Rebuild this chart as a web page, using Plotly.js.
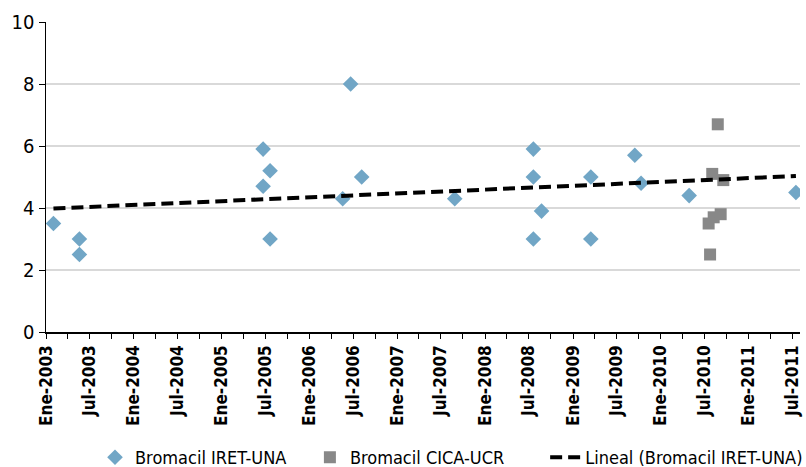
<!DOCTYPE html>
<html>
<head>
<meta charset="utf-8">
<script src="https://cdn.plot.ly/plotly-3.0.1.min.js"></script>
<style>
html,body{margin:0;padding:0;background:#fff;}
#chart{width:806px;height:467px;}
</style>
</head>
<body>
<div id="chart"></div>
<script>
// IRET-UNA series
var iretDates = ["2003-02-01","2003-05-20","2003-05-20","2005-06-22","2005-06-22","2005-07-21","2005-07-21",
  "2006-05-19","2006-06-21","2006-08-06","2007-08-28","2008-07-20","2008-07-20","2008-07-20","2008-08-23",
  "2009-03-16","2009-03-16","2009-09-15","2009-10-11","2010-04-29","2011-07-17"];
var iretValues = [3.5,3.0,2.5,5.9,4.7,5.2,3.0,4.3,8.0,5.0,4.3,5.9,5.0,3.0,3.9,5.0,3.0,5.7,4.8,4.4,4.5];

// CICA-UCR series
var cicaDates = ["2010-08-26","2010-08-03","2010-09-18","2010-09-07","2010-08-09","2010-07-19","2010-07-25"];
var cicaValues = [6.7,5.1,4.9,3.8,3.7,3.5,2.5];

// Axis ticks
var tickDates = ["2003-01-01","2003-07-01","2004-01-01","2004-07-01","2005-01-01","2005-07-01","2006-01-01","2006-07-01",
  "2007-01-01","2007-07-01","2008-01-01","2008-07-01","2009-01-01","2009-07-01","2010-01-01","2010-07-01","2011-01-01","2011-07-01"];
var tickLabels = ["Ene-2003","Jul-2003","Ene-2004","Jul-2004","Ene-2005","Jul-2005","Ene-2006","Jul-2006",
  "Ene-2007","Jul-2007","Ene-2008","Jul-2008","Ene-2009","Jul-2009","Ene-2010","Jul-2010","Ene-2011","Jul-2011"];

var seriesNames = ["Bromacil IRET-UNA","Bromacil CICA-UCR","Lineal (Bromacil IRET-UNA)"];

// Linear trendline (least squares) on IRET-UNA
var xs = iretDates.map(function(d){return new Date(d+"T00:00:00Z").getTime();});
var n = xs.length, sx=0, sy=0, sxx=0, sxy=0;
for (var i=0;i<n;i++){sx+=xs[i];sy+=iretValues[i];}
var mx=sx/n, my=sy/n;
for (var i=0;i<n;i++){sxx+=(xs[i]-mx)*(xs[i]-mx);sxy+=(xs[i]-mx)*(iretValues[i]-my);}
var slope=sxy/sxx, icpt=my-slope*mx;
var tMin=Math.min.apply(null,xs), tMax=Math.max.apply(null,xs);
var trendX=[new Date(tMin).toISOString().slice(0,10), new Date(tMax).toISOString().slice(0,10)];
var trendY=[icpt+slope*tMin, icpt+slope*tMax];

var FONT = "DejaVu Sans Condensed, Liberation Sans Narrow, sans-serif";

var traces = [
  {x: iretDates, y: iretValues, type:"scatter", mode:"markers", name: seriesNames[0], legend:"legend",
   marker:{symbol:"diamond", size:12, color:"#71A6C6", line:{width:0}}},
  {x: cicaDates, y: cicaValues, type:"scatter", mode:"markers", name: seriesNames[1], legend:"legend2",
   marker:{symbol:"square", size:12, color:"#888888", line:{width:0}}},
  {x: trendX, y: trendY, type:"scatter", mode:"lines", name: seriesNames[2], legend:"legend3",
   line:{color:"#000000", width:4, dash:"12px,6px"}}
];

function leg(x){
  return {orientation:"h", x:x, xanchor:"left", y:-0.405, yanchor:"middle",
          font:{family:FONT, size:18, color:"#000"}, itemwidth:30, bgcolor:"rgba(0,0,0,0)"};
}

var layout = {
  width:806, height:467,
  margin:{l:46, r:6, t:22, b:135, autoexpand:false},
  paper_bgcolor:"#ffffff", plot_bgcolor:"#ffffff",
  font:{family:FONT, size:18, color:"#000"},
  showlegend:true,
  legend: leg(0.065),
  legend2: leg(0.350),
  legend3: leg(0.662),
  xaxis:{type:"date", range:["2003-01-01","2011-08-03"], automargin:false,
         tickmode:"array", tickvals:tickDates, ticktext:tickLabels, tickangle:-90,
         tickfont:{family:FONT, size:17, color:"#000", weight:"bold"},
         ticks:"outside", ticklen:5, tickwidth:1, tickcolor:"#000",
         minor:{dtick:"M3", tick0:"2003-01-01", ticks:"outside", ticklen:5, tickwidth:1, tickcolor:"#000", showgrid:false},
         showline:true, linecolor:"#000", linewidth:1.5, showgrid:false, zeroline:false},
  yaxis:{range:[0,10], dtick:2, tick0:0, automargin:false, ticks:"outside", ticklen:6, tickwidth:1, tickcolor:"#000",
         showline:true, linecolor:"#000", linewidth:1.5,
         showgrid:true, gridcolor:"#D9D9D9", gridwidth:1.5, zeroline:false,
         tickfont:{family:FONT, size:20, color:"#000"}}
};

Plotly.newPlot("chart", traces, layout, {displayModeBar:false, staticPlot:true});
</script>
</body>
</html>
